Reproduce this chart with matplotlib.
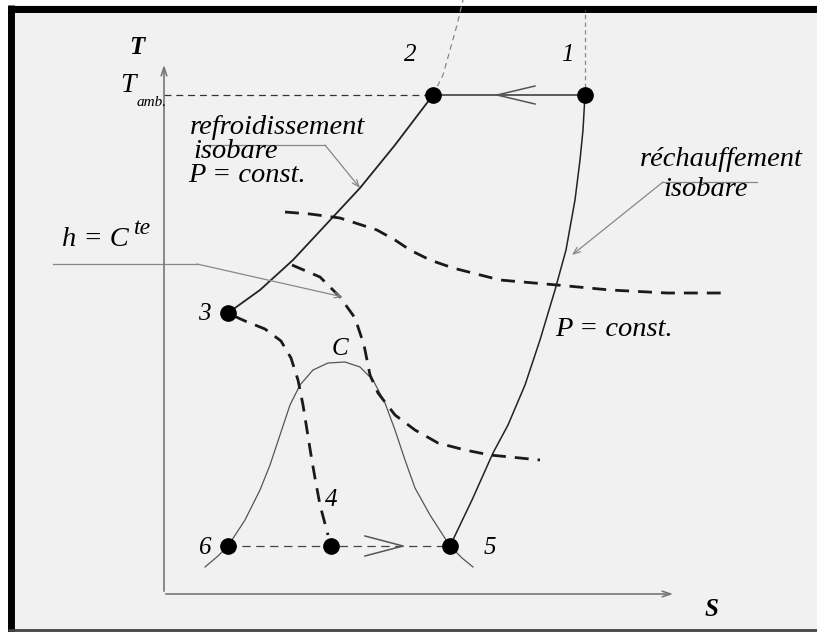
import matplotlib.pyplot as plt
from matplotlib.patches import Rectangle

plt.rcParams['lines.scale_dashes'] = False
plt.rcParams['font.family'] = ['Liberation Serif', 'DejaVu Serif']

# sketch coordinates (pixels, y downwards)
origin = (164, 594)
y_axis_top = 62
x_axis_end = 676

# state points of the cycle
pts_x = [585, 433, 228, 331, 450, 228]
pts_y = [95, 95, 313, 546, 546, 546]
pts_lbl = ['1', '2', '3', '4', '5', '6']
lbl_x = [567, 410, 204, 331, 490, 205]
lbl_y = [55, 55, 314, 500, 548, 548]

# isobar 2 -> 3 (cooling)
iso23_x = [433, 395, 360, 333, 293, 260, 228]
iso23_y = [95, 145, 188, 217, 260, 290, 313]

# isobar 1 -> 5 (heating)
iso15_x = [585, 583, 580, 575, 566, 555, 540, 525, 508, 493, 472, 450]
iso15_y = [95, 130, 160, 200, 250, 290, 340, 385, 425, 453, 500, 546]

# saturation dome
dome_x = [205, 218, 228, 245, 260, 270, 280, 290, 300, 313, 328, 345,
          360, 373, 385, 395, 405, 415, 430, 450, 462, 473]
dome_y = [567, 556, 546, 520, 490, 465, 435, 405, 385, 370, 363, 362,
          367, 380, 403, 430, 460, 488, 515, 546, 558, 567]

# isenthalps h = const
h1_x = [234, 245, 265, 281, 291, 298, 303, 307, 311, 315, 320, 328]
h1_y = [316, 321, 329, 341, 358, 380, 405, 430, 455, 478, 505, 535]
h2_x = [292, 320, 340, 355, 364, 370, 378, 395, 415, 438, 465, 490, 540]
h2_y = [265, 277, 297, 318, 345, 375, 393, 415, 430, 443, 450, 455, 460]
h3_x = [285, 310, 340, 377, 395, 410, 430, 453, 500, 557, 610, 667, 727]
h3_y = [212, 214, 218, 230, 240, 250, 260, 268, 280, 285, 290, 293, 293]

# thin guide lines above points 2 and 1
up2_x = [433, 443, 450, 457, 463]
up2_y = [95, 75, 50, 25, 0]
up1_x = [585, 585]
up1_y = [95, 10]

# flow direction chevrons (tip x, tip y, arm length, half width, direction)
chev = [(497, 95, 38, 9, -1), (403, 546, 38, 10, 1)]

fig = plt.figure(figsize=(8.17, 6.32), dpi=100)
fig.patch.set_facecolor('white')
ax = fig.add_axes([0, 0, 1, 1])
ax.set_xlim(0, 817)
ax.set_ylim(632, 0)
ax.axis('off')

# panel background with its frame
ax.add_patch(Rectangle((8, 5), 820, 627, facecolor='#f1f1f1',
                       edgecolor='none', zorder=0))
ax.plot([11.5, 11.5], [5, 632], color='black', lw=5, solid_capstyle='butt')
ax.plot([8, 817], [8.5, 8.5], color='black', lw=5, solid_capstyle='butt')
ax.plot([8, 817], [630, 630], color='#444444', lw=2, solid_capstyle='butt')

# axes of the T-S diagram
ax.annotate('', xy=(origin[0], y_axis_top), xytext=(origin[0], origin[1]),
            arrowprops=dict(arrowstyle='->,head_length=0.6,head_width=0.2',
                            color='#777777', lw=1.2))
ax.annotate('', xy=(x_axis_end, origin[1]), xytext=(origin[0] - 1, origin[1]),
            arrowprops=dict(arrowstyle='->,head_length=0.6,head_width=0.2',
                            color='#777777', lw=1.2))
ax.text(137, 47, 'T', fontsize=18, fontweight='bold', style='italic',
        ha='center', va='center')
ax.text(711, 610, 'S', fontsize=18, fontweight='bold', style='italic',
        ha='center', va='center')

# T_amb level
ax.plot([origin[0], pts_x[1]], [pts_y[1], pts_y[1]], color='#333333',
        lw=0.9, dashes=(5, 3.5))
ax.text(120, 85, 'T', fontsize=20, style='italic', ha='left', va='center')
ax.text(137, 102, 'amb.', fontsize=11, style='italic', ha='left', va='center')

# cycle lines
ax.plot([pts_x[1], pts_x[0]], [pts_y[1], pts_y[0]], color='#333333', lw=1.1)
ax.plot(iso23_x, iso23_y, color='#222222', lw=1.3)
ax.plot(iso15_x, iso15_y, color='#222222', lw=1.1)
ax.plot([pts_x[5], pts_x[4]], [pts_y[5], pts_y[4]], color='#444444',
        lw=0.9, dashes=(6, 4))
ax.plot(dome_x, dome_y, color='#555555', lw=0.9)
for hx, hy in [(h1_x, h1_y), (h2_x, h2_y), (h3_x, h3_y)]:
    ax.plot(hx, hy, color='#1a1a1a', lw=2.0, dashes=(10, 6.5))
ax.plot(up2_x, up2_y, color='#888888', lw=0.9, dashes=(4, 3))
ax.plot(up1_x, up1_y, color='#888888', lw=0.9, dashes=(3, 2.5))

for tx, ty, length, half, d in chev:
    ax.plot([tx - d * length, tx, tx - d * length],
            [ty - half, ty, ty + half], color='#555555', lw=1.1)

ax.plot(pts_x, pts_y, 'o', color='black', ms=11, zorder=5)
for s, lx, ly in zip(pts_lbl, lbl_x, lbl_y):
    ax.text(lx, ly, s, fontsize=18, style='italic', ha='center', va='center')
ax.text(340, 349, 'C', fontsize=18, style='italic', ha='center', va='center')

# annotations
lead = dict(arrowstyle='->,head_length=0.5,head_width=0.2', color='#888888',
            lw=0.9, shrinkA=0, shrinkB=0)
fs = 20.5
ax.text(190, 128, 'refroidissement', fontsize=fs, style='italic',
        ha='left', va='center')
ax.text(193, 152, 'isobare', fontsize=fs, style='italic', ha='left', va='center')
ax.text(188, 176, 'P = const.', fontsize=fs, style='italic',
        ha='left', va='center')
ax.plot([207, 325], [145, 145], color='#888888', lw=0.9)
ax.annotate('', xy=(360, 188), xytext=(325, 145), arrowprops=lead)

ax.text(640, 160, 'réchauffement', fontsize=fs, style='italic',
        ha='left', va='center', clip_on=True)
ax.text(663, 189, 'isobare', fontsize=fs, style='italic', ha='left', va='center')
ax.plot([663, 757], [182, 182], color='#888888', lw=0.9)
ax.annotate('', xy=(572, 255), xytext=(663, 182), arrowprops=lead)

ax.text(62, 240, 'h = C', fontsize=fs, style='italic', ha='left',
        va='center')
ax.text(134, 229, 'te', fontsize=17, style='italic', ha='left', va='center')
ax.plot([53, 197], [264, 264], color='#888888', lw=0.9)
ax.annotate('', xy=(343, 297), xytext=(197, 264), arrowprops=lead)

ax.text(555, 330, 'P = const.', fontsize=fs, style='italic', ha='left',
        va='center')

fig.savefig('out.png', dpi=100)
